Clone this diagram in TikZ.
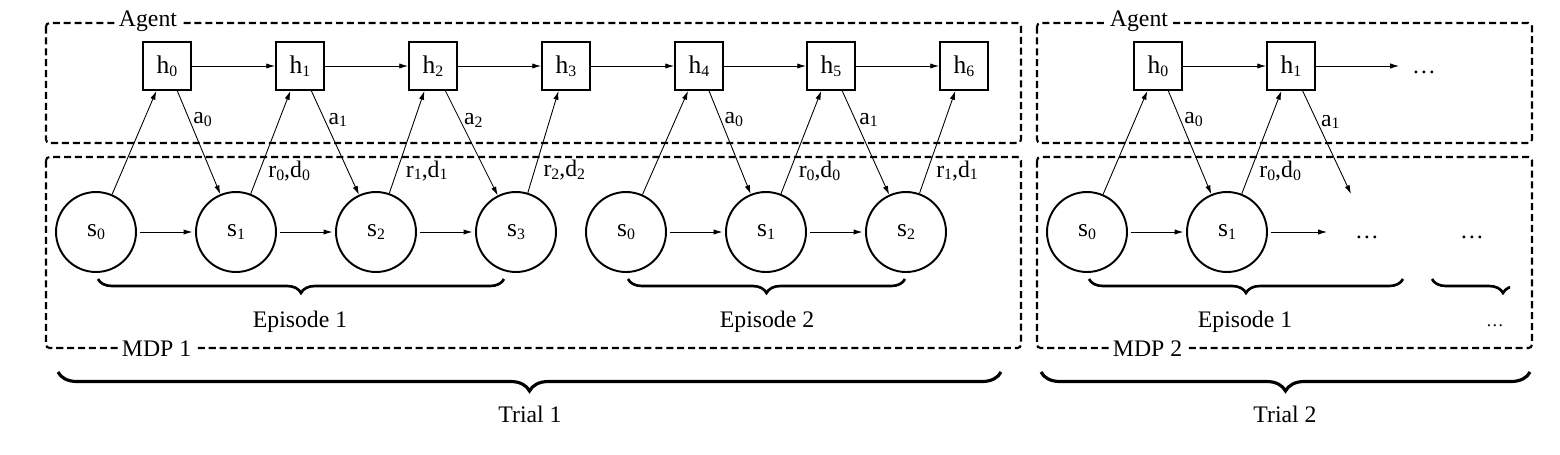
\documentclass[tikz,border=0pt]{standalone}
\usepackage{fontspec}
\setmainfont{Liberation Serif}
\usetikzlibrary{arrows.meta,positioning,decorations.pathreplacing}

\newcommand{\lowsub}[1]{\raisebox{-0.25ex}{\fontsize{9}{9}\selectfont #1}}

\begin{document}
\begin{tikzpicture}[x=0.02cm, y=-0.02cm,
    font=\fontsize{13.5}{15}\selectfont,
    hbox/.style={draw, line width=1.1pt, minimum size=0.96cm, inner sep=0pt,
      font=\fontsize{14.5}{16}\selectfont},
    sstate/.style={draw, circle, line width=1.1pt, minimum size=1.6cm, inner sep=0pt,
      font=\fontsize{14.5}{16}\selectfont},
    frame/.style={draw, line width=1.2pt, dash pattern=on 4pt off 2.2pt, rounded corners=2pt},
    framelabel/.style={fill=white, inner sep=1.5pt, anchor=west},
    arrow/.style={-{Latex[length=5pt,width=3pt]}, line width=0.5pt},
    lbl/.style={inner sep=2pt},
    epbrace/.style={decorate, decoration={brace, mirror, amplitude=0.28cm}, line width=1.5pt},
    trialbrace/.style={decorate, decoration={brace, mirror, amplitude=0.38cm}, line width=1.8pt}
  ]
    \useasboundingbox (0,0) rectangle (1560,454);

    % dashed frames
    \draw[frame] (46,23) rectangle (1021,143);
    \draw[frame] (46,157) rectangle (1021,348);
    \draw[frame] (1037,23) rectangle (1532,143);
    \draw[frame] (1037,157) rectangle (1532,348);
    \node[framelabel] (agent1) at (116,21) {Agent};
    \node[framelabel] (mdp1) at (119,349) {MDP 1};
    \node[framelabel] (agent2) at (1107,21) {Agent};
    \node[framelabel] (mdp2) at (1110,349) {MDP 2};

    % trial 1
    \node[hbox] (h0) at (167,66) {h\lowsub{0}};
    \node[hbox] (h1) at (300,66) {h\lowsub{1}};
    \node[hbox] (h2) at (433,66) {h\lowsub{2}};
    \node[hbox] (h3) at (566,66) {h\lowsub{3}};
    \node[hbox] (h4) at (699,66) {h\lowsub{4}};
    \node[hbox] (h5) at (831,66) {h\lowsub{5}};
    \node[hbox] (h6) at (964,66) {h\lowsub{6}};
    \node[sstate] (e1s0) at (96,232) {s\lowsub{0}};
    \node[sstate] (e1s1) at (236,232) {s\lowsub{1}};
    \node[sstate] (e1s2) at (376,232) {s\lowsub{2}};
    \node[sstate] (e1s3) at (516,232) {s\lowsub{3}};
    \node[sstate] (e2s0) at (626,232) {s\lowsub{0}};
    \node[sstate] (e2s1) at (766,232) {s\lowsub{1}};
    \node[sstate] (e2s2) at (906,232) {s\lowsub{2}};

    \draw[arrow] (h0) -- (h1);
    \draw[arrow] (h1) -- (h2);
    \draw[arrow] (h2) -- (h3);
    \draw[arrow] (h3) -- (h4);
    \draw[arrow] (h4) -- (h5);
    \draw[arrow] (h5) -- (h6);
    \draw[arrow, shorten <=1.5pt, shorten >=1.5pt] (e1s0) -- (e1s1);
    \draw[arrow, shorten <=1.5pt, shorten >=1.5pt] (e1s1) -- (e1s2);
    \draw[arrow, shorten <=1.5pt, shorten >=1.5pt] (e1s2) -- (e1s3);
    \draw[arrow, shorten <=1.5pt, shorten >=1.5pt] (e2s0) -- (e2s1);
    \draw[arrow, shorten <=1.5pt, shorten >=1.5pt] (e2s1) -- (e2s2);

    \draw[arrow] (e1s0) -- (h0);
    \draw[arrow] (h0) -- node[lbl, pos=0.28, right] {a\lowsub{0}} (e1s1);
    \draw[arrow] (e1s1) -- node[lbl, pos=0.22, right=0.1cm] {r\lowsub{0},d\lowsub{0}} (h1);
    \draw[arrow] (h1) -- node[lbl, pos=0.28, right] {a\lowsub{1}} (e1s2);
    \draw[arrow] (e1s2) -- node[lbl, pos=0.22, right=0.1cm] {r\lowsub{1},d\lowsub{1}} (h2);
    \draw[arrow] (h2) -- node[lbl, pos=0.28, right] {a\lowsub{2}} (e1s3);
    \draw[arrow] (e1s3) -- node[lbl, pos=0.22, right=0.1cm] {r\lowsub{2},d\lowsub{2}} (h3);
    \draw[arrow] (e2s0) -- (h4);
    \draw[arrow] (h4) -- node[lbl, pos=0.28, right] {a\lowsub{0}} (e2s1);
    \draw[arrow] (e2s1) -- node[lbl, pos=0.22, right=0.1cm] {r\lowsub{0},d\lowsub{0}} (h5);
    \draw[arrow] (h5) -- node[lbl, pos=0.28, right] {a\lowsub{1}} (e2s2);
    \draw[arrow] (e2s2) -- node[lbl, pos=0.22, right=0.1cm] {r\lowsub{1},d\lowsub{1}} (h6);

    % trial 2
    \node[hbox] (m2h0) at (1158,66) {h\lowsub{0}};
    \node[hbox] (m2h1) at (1291,66) {h\lowsub{1}};
    \node[sstate] (m2s0) at (1087,232) {s\lowsub{0}};
    \node[sstate] (m2s1) at (1227,232) {s\lowsub{1}};
    \node (hdots) at (1424,72) {…};
    \node (sdots) at (1367,237) {…};
    \node (mdots) at (1472,237) {…};
    \coordinate (hend) at (1399,66);
    \coordinate (send) at (1327,232);
    \coordinate (aend) at (1351,194);

    \draw[arrow] (m2h0) -- (m2h1);
    \draw[arrow] (m2h1) -- (hend);
    \draw[arrow, shorten <=1.5pt, shorten >=1.5pt] (m2s0) -- (m2s1);
    \draw[arrow, shorten <=1.5pt] (m2s1) -- (send);
    \draw[arrow] (m2s0) -- (m2h0);
    \draw[arrow] (m2h0) -- node[lbl, pos=0.28, right] {a\lowsub{0}} (m2s1);
    \draw[arrow] (m2s1) -- node[lbl, pos=0.22, right=0.1cm] {r\lowsub{0},d\lowsub{0}} (m2h1);
    \draw[arrow] (m2h1) -- node[lbl, pos=0.3, right] {a\lowsub{1}} (aend);

    % braces
    \draw[epbrace] (98,279) -- (504,279);
    \node (ep1) at (300,322) {Episode 1};
    \draw[epbrace] (628,279) -- (905,279);
    \node (ep2) at (767,322) {Episode 2};
    \draw[epbrace] (1089,279) -- (1403,279);
    \node (ep3) at (1245,322) {Episode 1};
    \begin{scope}
      \clip (1420,270) rectangle (1510,305);
      \draw[epbrace] (1432,279) -- (1574,279);
    \end{scope}
    \node[font=\fontsize{10}{12}\selectfont] (epdots) at (1495,326) {…};

    \draw[trialbrace] (58,372) -- (1001,372);
    \node (trial1) at (530,414) {Trial 1};
    \draw[trialbrace] (1041,372) -- (1530,372);
    \node (trial2) at (1285,414) {Trial 2};
  \end{tikzpicture}
\end{document}
